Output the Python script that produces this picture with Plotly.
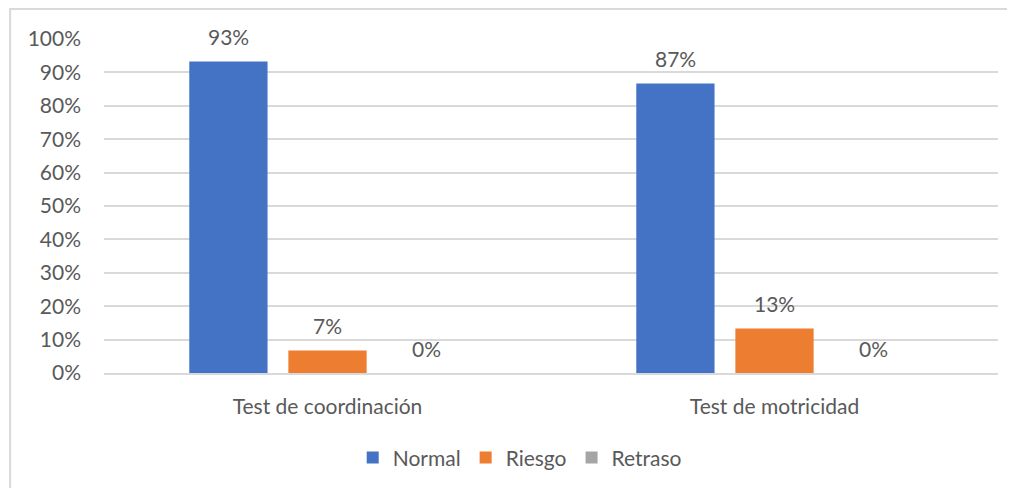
import plotly.graph_objects as go

categories = ["Test de coordinación", "Test de motricidad"]
series_names = ["Normal", "Riesgo", "Retraso"]
normal = [0.933, 0.867]
riesgo = [0.067, 0.133]
retraso = [0.0, 0.0]
y_ticks = [0, 0.1, 0.2, 0.3, 0.4, 0.5, 0.6, 0.7, 0.8, 0.9, 1.0]
y_tick_labels = ["0%", "10%", "20%", "30%", "40%", "50%", "60%", "70%", "80%", "90%", "100%"]

colors = ["#4472C4", "#ED7D31", "#A5A5A5"]
FONT = "Lato"
TXT = "#595959"
FS = 21

W, H = 1015, 488
ML, MR, MT, MB = 96, 25, 31, 123
BARGAP, GROUPGAP = 0.335, 0.21

fig = go.Figure()
series_vals = [normal, riesgo, retraso]
for name, vals, col in zip(series_names, series_vals, colors):
    fig.add_trace(go.Bar(name=name, x=categories, y=vals, marker_color=col,
                         marker_line_width=0))

# data labels placed above each bar (slot offset derived from the group layout)
plot_w = W - ML - MR
slot_px = plot_w / len(categories) * (1 - BARGAP) / len(series_names)
annotations = []
for i, vals in enumerate(series_vals):
    for cat, v in zip(categories, vals):
        annotations.append(dict(
            x=cat, y=v, xref="x", yref="y", text=f"{v:.0%}", showarrow=False,
            xshift=(i - (len(series_names) - 1) / 2) * slot_px, yshift=25,
            font=dict(family=FONT, size=FS, color=TXT)))

fig.update_layout(
    width=W, height=H,
    paper_bgcolor="white", plot_bgcolor="white",
    margin=dict(l=ML, r=MR, t=MT, b=MB, autoexpand=False),
    barmode="group", bargap=BARGAP, bargroupgap=GROUPGAP,
    font=dict(family=FONT, color=TXT, size=FS),
    showlegend=True,
    legend=dict(orientation="h", x=0.465, xanchor="center", y=-0.254, yanchor="middle",
                font=dict(family=FONT, size=FS, color=TXT), traceorder="normal"),
    annotations=annotations,
    shapes=[dict(type="rect", xref="paper", yref="paper",
                 x0=-0.105, x1=1.03, y0=-0.45, y1=1.09,
                 line=dict(color="#D9D9D9", width=2), fillcolor="rgba(0,0,0,0)",
                 layer="below")],
)
fig.update_yaxes(range=[0, 1], tickvals=y_ticks, ticktext=y_tick_labels,
                 showgrid=True, gridcolor="#D9D9D9", gridwidth=1.5,
                 zeroline=False, showline=False, ticks="", automargin=False,
                 ticklabelstandoff=22, tickfont=dict(family=FONT, size=FS, color=TXT))
fig.update_xaxes(showline=True, linecolor="#D9D9D9", linewidth=1.5, ticks="",
                 automargin=False,
                 ticklabelstandoff=14, tickfont=dict(family=FONT, size=FS, color=TXT))

fig.write_html("out.html")
